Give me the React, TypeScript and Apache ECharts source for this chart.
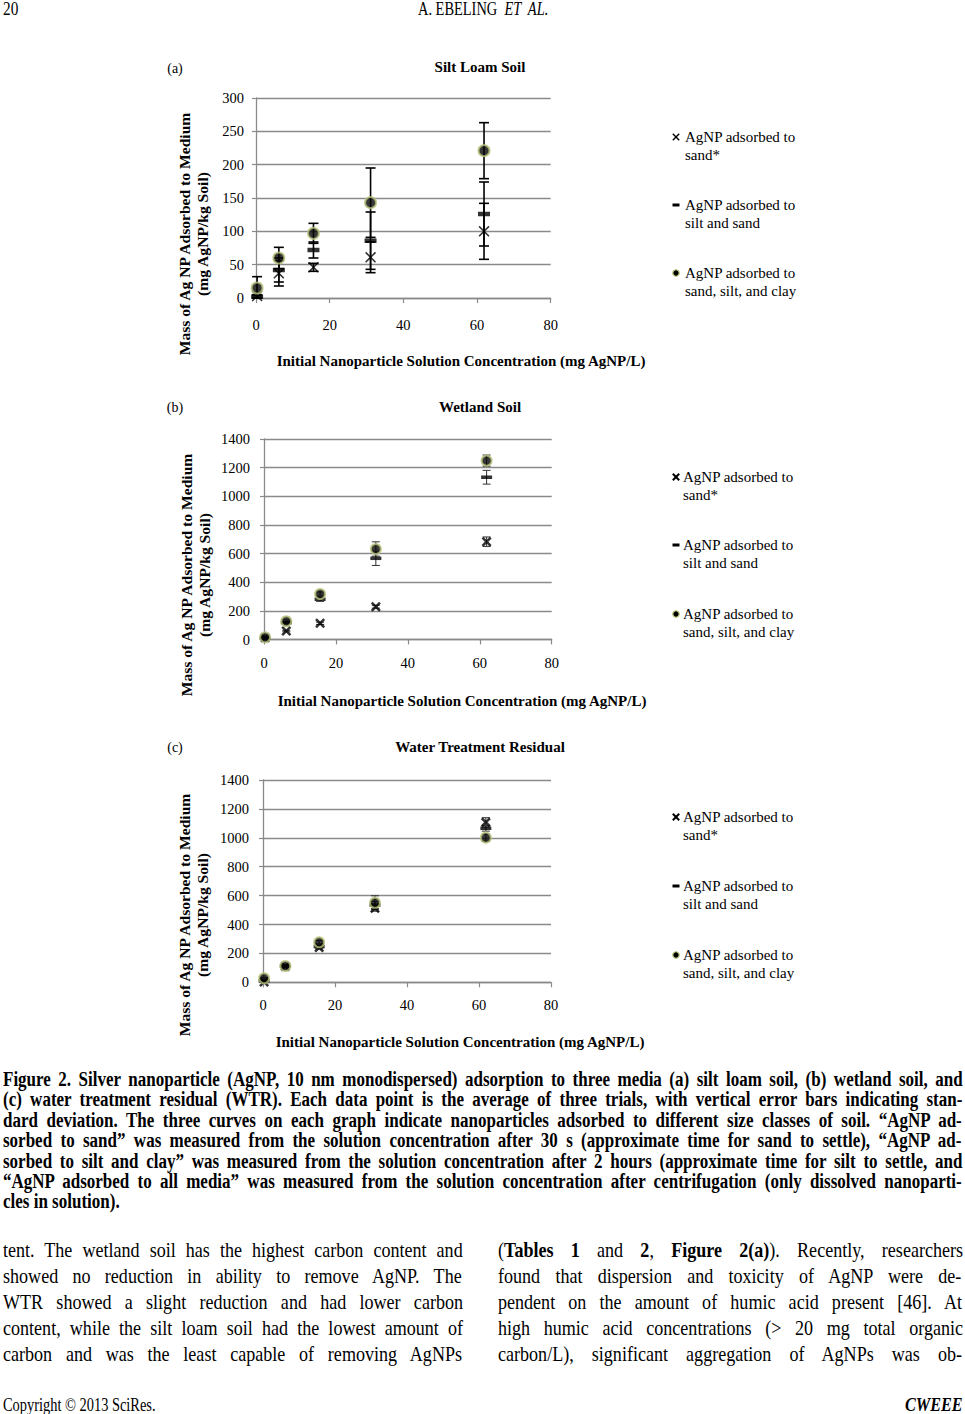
import React, { useEffect, useRef } from "react";
import * as echarts from "echarts";

// ---------------- data ----------------
const conc = [0.3, 6.2, 15.6, 31.1, 61.9];

const aSand = [3, 37, 46, 61, 100];
const aSandSd = [2, 19, 6, 23, 42];
const aSilt = [2, 42, 72, 86, 126];
const aSiltSd = [2, 18, 12, 43, 48];
const aAll = [15, 60, 97, 143, 221];
const aAllSd = [17, 16, 15, 52, 42];

const bSand = [12, 59, 113, 229, 683];
const bSandSd = [4, 5, 8, 10, 33];
const bSilt = [10, 118, 281, 567, 1133];
const bSiltSd = [5, 8, 15, 50, 48];
const bAll = [15, 127, 318, 632, 1249];
const bAllSd = [8, 10, 14, 50, 39];

const cSand = [2, 110, 240, 512, 1107];
const cSandSd = [3, 8, 10, 20, 32];
const cSilt = [10, 112, 247, 535, 1066];
const cSiltSd = [4, 8, 10, 25, 20];
const cAll = [28, 113, 277, 551, 1001];
const cAllSd = [6, 10, 12, 48, 25];

const panelTitles = ["Silt Loam Soil", "Wetland Soil", "Water Treatment Residual"];
const panelTags = ["(a)", "(b)", "(c)"];
const yTitle1 = "Mass of Ag NP Adsorbed to Medium";
const yTitle2 = "(mg AgNP/kg Soil)";
const xTitle = "Initial Nanoparticle Solution Concentration (mg AgNP/L)";
const legendLines = [
  ["AgNP adsorbed to", "sand*"],
  ["AgNP adsorbed to", "silt and sand"],
  ["AgNP adsorbed to", "sand, silt, and clay"],
];
const yMax = [300, 1400, 1400];
const yStep = [50, 200, 200];

const captionLines = [
  "Figure 2. Silver nanoparticle (AgNP, 10 nm monodispersed) adsorption to three media (a) silt loam soil, (b) wetland soil, and",
  "(c) water treatment residual (WTR). Each data point is the average of three trials, with vertical error bars indicating stan-",
  "dard deviation. The three curves on each graph indicate nanoparticles adsorbed to different size classes of soil. \u201cAgNP ad-",
  "sorbed to sand\u201d was measured from the solution concentration after 30 s (approximate time for sand to settle), \u201cAgNP ad-",
  "sorbed to silt and clay\u201d was measured from the solution concentration after 2 hours (approximate time for silt to settle, and",
  "\u201cAgNP adsorbed to all media\u201d was measured from the solution concentration after centrifugation (only dissolved nanoparti-",
  "cles in solution).",
];
const leftCol = [
  "tent. The wetland soil has the highest carbon content and",
  "showed no reduction in ability to remove AgNP. The",
  "WTR showed a slight reduction and had lower carbon",
  "content, while the silt loam soil had the lowest amount of",
  "carbon and was the least capable of removing AgNPs",
];
const rightCol: { t: string; b?: boolean }[][] = [
  [{ t: "(" }, { t: "Tables 1", b: true }, { t: " and " }, { t: "2", b: true }, { t: ", " }, { t: "Figure 2(a)", b: true }, { t: "). Recently, researchers" }],
  [{ t: "found that dispersion and toxicity of AgNP were de-" }],
  [{ t: "pendent on the amount of humic acid present [46]. At" }],
  [{ t: "high humic acid concentrations (> 20 mg total organic" }],
  [{ t: "carbon/L), significant aggregation of AgNPs was ob-" }],
];

// ---------------- layout ----------------
const FAM = '"Liberation Serif", "Times New Roman", serif';
const panels = [
  { left: 256, top: 98, width: 294.7, height: 200, tag: [175, 68], title: [480, 67], yt: [184, 202, 234], xt: [461, 361], legX: 676, legTX: 685, rows: [137, 205, 273], ylm: 12, xlm: 19, thinX: true },
  { left: 264, top: 439, width: 287.7, height: 200.5, tag: [175, 407], title: [480, 407], yt: [186, 204, 575], xt: [462, 701], legX: 676, legTX: 683, rows: [477, 545, 614], ylm: 14, xlm: 16, thinX: false },
  { left: 263, top: 780, width: 288, height: 202.3, tag: [175, 747], title: [480, 747], yt: [184, 202, 915], xt: [460, 1042], legX: 676, legTX: 683, rows: [817, 886, 955], ylm: 14, xlm: 15, thinX: false },
];

const X_THIN = "path://M0,1L1,0L5,4L9,0L10,1L6,5L10,9L9,10L5,6L1,10L0,9L4,5Z";
const X_THICK = "path://M0,1.8L1.8,0L5,3.2L8.2,0L10,1.8L6.8,5L10,8.2L8.2,10L5,6.8L1.8,10L0,8.2L3.2,5Z";
const OLIVE = "#b5c27a";
const GRAY = "#8a8a8a";

// ---------------- text helpers ----------------
let _cv: HTMLCanvasElement | null = null;
function tw(t: string, font: string) {
  if (!_cv) _cv = document.createElement("canvas");
  const ctx = _cv.getContext("2d")!;
  ctx.font = font;
  return ctx.measureText(t).width;
}

type Seg = { t: string; b?: boolean; i?: boolean };
function Line(props: { x: number; y: number; w: number; size: number; segs: Seg[]; align?: string; bold?: boolean; condense?: number }) {
  const { x, y, w, size, segs, align = "justify", bold = false, condense = 1 } = props;
  const isB = (s: Seg) => (s.b === undefined ? bold : s.b);
  const fontOf = (s: Seg) => `${s.i ? "italic " : ""}${isB(s) ? "bold " : ""}${size}px ${FAM}`;
  let W = 0;
  let n = 0;
  segs.forEach((s) => {
    W += tw(s.t, fontOf(s));
    n += (s.t.match(/ /g) || []).length;
  });
  let scale = condense;
  let ws = 0;
  if (align === "justify") {
    if (W * condense > w) scale = w / W;
    else ws = n ? (w - W * condense) / n / condense : 0;
  }
  const vis = (W + ws * n) * scale;
  let left = x;
  if (align === "center") left = x - vis / 2;
  if (align === "right") left = x + w - vis;
  return (
    <div
      style={{
        position: "absolute",
        left,
        top: y - size * 0.6,
        whiteSpace: "pre",
        fontFamily: FAM,
        fontSize: size,
        lineHeight: `${size * 1.2}px`,
        transform: `scaleX(${scale})`,
        transformOrigin: "0 0",
        wordSpacing: ws,
        color: "#000",
      }}
    >
      {segs.map((s, k) => (
        <span key={k} style={{ fontWeight: isB(s) ? "bold" : "normal", fontStyle: s.i ? "italic" : "normal" }}>
          {s.t}
        </span>
      ))}
    </div>
  );
}

// ---------------- chart ----------------
function errSeries(gi: number, name: string, vals: number[], sds: number[], color: string, lw: number, cap: number) {
  return {
    type: "custom",
    name,
    xAxisIndex: gi,
    yAxisIndex: gi,
    data: vals.map((v, k) => [conc[k], Math.max(0, v - sds[k]), v + sds[k]]),
    encode: { x: 0, y: [1, 2] },
    silent: true,
    z: 2,
    renderItem: (_p: any, api: any) => {
      const x = api.value(0);
      const p1 = api.coord([x, api.value(2)]);
      const p2 = api.coord([x, api.value(1)]);
      const style = { stroke: color, lineWidth: lw, fill: "none" };
      return {
        type: "group",
        children: [
          { type: "line", shape: { x1: p1[0], y1: p1[1], x2: p2[0], y2: p2[1] }, style },
          { type: "line", shape: { x1: p1[0] - cap, y1: p1[1], x2: p1[0] + cap, y2: p1[1] }, style },
          { type: "line", shape: { x1: p2[0] - cap, y1: p2[1], x2: p2[0] + cap, y2: p2[1] }, style },
        ],
      };
    },
  };
}

function buildOption() {
  const sets = [
    [aSand, aSandSd, aSilt, aSiltSd, aAll, aAllSd],
    [bSand, bSandSd, bSilt, bSiltSd, bAll, bAllSd],
    [cSand, cSandSd, cSilt, cSiltSd, cAll, cAllSd],
  ];
  const series: any[] = [];
  const graphic: any[] = [];
  panels.forEach((p, i) => {
    const [sand, sandSd, silt, siltSd, all, allSd] = sets[i];
    const ec = i === 0 ? "#000" : "#333";
    const lw = i === 0 ? 1.6 : 1;
    const cap = i === 0 ? 5 : 4;
    series.push(errSeries(i, `err-sand-${i}`, sand, sandSd, ec, lw, cap));
    series.push(errSeries(i, `err-silt-${i}`, silt, siltSd, ec, lw, cap));
    series.push(errSeries(i, `err-all-${i}`, all, allSd, ec, lw, cap));
    series.push({
      type: "scatter",
      name: `sand-${i}`,
      xAxisIndex: i,
      yAxisIndex: i,
      data: sand.map((v, k) => [conc[k], v]),
      symbol: p.thinX ? X_THIN : X_THICK,
      symbolSize: i === 0 ? 11 : 10,
      itemStyle: { color: "#000" },
      z: 3,
    });
    series.push({
      type: "scatter",
      name: `silt-${i}`,
      xAxisIndex: i,
      yAxisIndex: i,
      data: silt.map((v, k) => [conc[k], v]),
      symbol: "rect",
      symbolSize: i === 0 ? [12, 4.5] : [11, 3.5],
      itemStyle: { color: "#000" },
      z: 4,
    });
    series.push({
      type: "scatter",
      name: `all-${i}`,
      xAxisIndex: i,
      yAxisIndex: i,
      data: all.map((v, k) => [conc[k], v]),
      symbol: "circle",
      symbolSize: i === 0 ? 11 : 10,
      itemStyle: { color: "#050505", borderColor: OLIVE, borderWidth: 2 },
      z: 5,
    });

    // titles
    graphic.push({ type: "text", x: p.tag[0], y: p.tag[1], style: { text: panelTags[i], font: `14px ${FAM}`, fill: "#000", textAlign: "center", textVerticalAlign: "middle" } });
    graphic.push({ type: "text", x: p.title[0], y: p.title[1], style: { text: panelTitles[i], font: `bold 15px ${FAM}`, fill: "#000", textAlign: "center", textVerticalAlign: "middle" } });
    graphic.push({ type: "text", x: p.yt[0], y: p.yt[2], rotation: Math.PI / 2, style: { text: yTitle1, font: `bold 15.6px ${FAM}`, fill: "#000", textAlign: "center", textVerticalAlign: "middle" } });
    graphic.push({ type: "text", x: p.yt[1], y: p.yt[2], rotation: Math.PI / 2, style: { text: yTitle2, font: `bold 15.6px ${FAM}`, fill: "#000", textAlign: "center", textVerticalAlign: "middle" } });
    graphic.push({ type: "text", x: p.xt[0], y: p.xt[1], style: { text: xTitle, font: `bold 15px ${FAM}`, fill: "#000", textAlign: "center", textVerticalAlign: "middle" } });

    // legend
    p.rows.forEach((ry, r) => {
      const ix = p.legX;
      if (r === 0) {
        const s = 3.2;
        const st = { stroke: "#000", lineWidth: i === 0 ? 1.4 : 2 };
        graphic.push({ type: "line", shape: { x1: ix - s, y1: ry - s, x2: ix + s, y2: ry + s }, style: st });
        graphic.push({ type: "line", shape: { x1: ix + s, y1: ry - s, x2: ix - s, y2: ry + s }, style: st });
      } else if (r === 1) {
        graphic.push({ type: "rect", shape: { x: ix - 3.5, y: ry - 1.5, width: 7, height: 3 }, style: { fill: "#000" } });
      } else {
        graphic.push({ type: "circle", shape: { cx: ix, cy: ry, r: 3.2 }, style: { fill: "#000", stroke: OLIVE, lineWidth: 1.2 } });
      }
      graphic.push({ type: "text", x: p.legTX, y: ry, style: { text: legendLines[r][0], font: `15px ${FAM}`, fill: "#000", textAlign: "left", textVerticalAlign: "middle" } });
      graphic.push({ type: "text", x: p.legTX, y: ry + 17.5, style: { text: legendLines[r][1], font: `15px ${FAM}`, fill: "#000", textAlign: "left", textVerticalAlign: "middle" } });
    });
  });

  return {
    animation: false,
    backgroundColor: "#fff",
    grid: panels.map((p) => ({ left: p.left, top: p.top, width: p.width, height: p.height, containLabel: false })),
    xAxis: panels.map((p, i) => ({
      gridIndex: i,
      type: "value",
      min: 0,
      max: 80,
      interval: 20,
      axisLine: { show: true, onZero: false, lineStyle: { color: GRAY, width: 1.3 } },
      axisTick: { show: true, length: 5, lineStyle: { color: GRAY, width: 1.2 } },
      axisLabel: { margin: p.xlm, color: "#000", fontFamily: FAM, fontSize: 14.5, formatter: (v: number) => String(v) },
      splitLine: { show: false },
    })),
    yAxis: panels.map((p, i) => ({
      gridIndex: i,
      type: "value",
      min: 0,
      max: yMax[i],
      interval: yStep[i],
      axisLine: { show: true, lineStyle: { color: GRAY, width: 1.3 } },
      axisTick: { show: true, length: 4, lineStyle: { color: GRAY, width: 1.2 } },
      axisLabel: { margin: p.ylm, color: "#000", fontFamily: FAM, fontSize: 14.5, formatter: (v: number) => String(v) },
      splitLine: { show: true, lineStyle: { color: GRAY, width: 1.3 } },
    })),
    series,
    graphic,
  };
}

export default function App() {
  const ref = useRef<HTMLDivElement>(null);
  useEffect(() => {
    if (!ref.current) return;
    const chart = echarts.init(ref.current, null, { renderer: "svg" });
    chart.setOption(buildOption() as any);
    return () => chart.dispose();
  }, []);

  return (
    <div style={{ position: "absolute", left: 0, top: 0, width: 965, height: 1414, background: "#fff", overflow: "hidden" }}>
      <div ref={ref} style={{ position: "absolute", left: 0, top: 0, width: 965, height: 1062 }} />
      {/* header */}
      <Line x={3} y={10} w={40} size={18} segs={[{ t: "20" }]} align="left" condense={0.85} />
      <Line x={483} y={10} w={0} size={18} segs={[{ t: "A. EBELING  " }, { t: "ET  AL.", i: true }]} align="center" condense={0.8} />
      {/* caption */}
      {captionLines.map((t, k) => (
        <Line key={"c" + k} x={3} y={1079 + k * 20.4} w={960} size={20} segs={[{ t }]} bold align={k === captionLines.length - 1 ? "left" : "justify"} condense={0.85} />
      ))}
      {/* body */}
      {leftCol.map((t, k) => (
        <Line key={"l" + k} x={3} y={1251 + k * 26} w={460} size={21} segs={[{ t }]} condense={0.86} />
      ))}
      {rightCol.map((segs, k) => (
        <Line key={"r" + k} x={498} y={1251 + k * 26} w={465} size={21} segs={segs} condense={0.86} />
      ))}
      {/* footer */}
      <Line x={3} y={1406} w={300} size={18} segs={[{ t: "Copyright \u00a9 2013 SciRes." }]} align="left" condense={0.8} />
      <Line x={863} y={1406} w={100} size={18} segs={[{ t: "CWEEE", b: true, i: true }]} align="right" condense={0.9} />
    </div>
  );
}
